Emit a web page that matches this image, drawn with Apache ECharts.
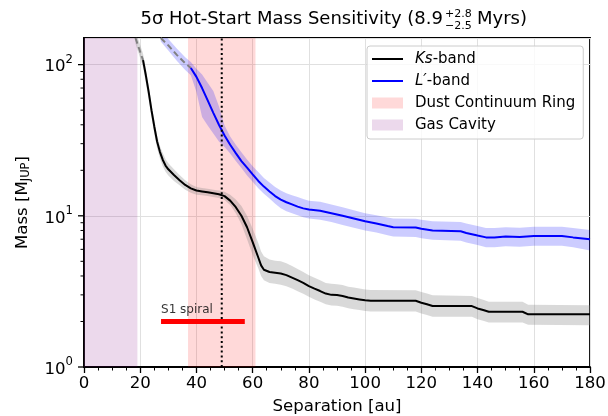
<!DOCTYPE html>
<html>
<head>
<meta charset="utf-8">
<script src="https://cdn.jsdelivr.net/npm/echarts@6/dist/echarts.min.js"></script>
<style>
  html, body { margin: 0; padding: 0; background: #fff; }
  #chart { width: 608px; height: 416px; }
</style>
</head>
<body>
<div id="chart"></div>
<script>
// ---- data ----
var cavityRange = [0, 19];
var ringRange = [37, 61];
var ringCenter = 49;
var s1Range = [27.4, 57.2];
var s1Mass = 2;

// Ks-band (black), dashed part above ~100 MJup
var ksDashX = [18.3, 19.7, 21];
var ksDashMass = [150, 126, 107];
var ksX = [21, 22, 23, 24, 25, 26, 27, 28, 29, 30, 32, 34, 36, 38, 40, 42, 44, 46, 48, 50,
  52, 54, 56, 58, 60, 62, 63, 64, 66, 68, 70, 72, 74, 76, 78, 80, 82, 84, 86, 88,
  90, 92, 94, 96, 98, 100, 102, 118, 120, 122, 124, 138, 140, 142, 144, 156, 158, 180];
var ksMass = [107, 85, 66, 50, 39, 31, 26.5, 23.5, 21.5, 20.3, 18.6, 17.2, 16, 15.2, 14.7, 14.5, 14.3, 14.1, 13.9, 13.5,
  12.6, 11.4, 10, 8.4, 6.7, 5.3, 4.7, 4.4, 4.25, 4.2, 4.15, 4.05, 3.9, 3.75, 3.6, 3.43, 3.3, 3.18, 3.06, 3.0,
  2.99, 2.95, 2.88, 2.84, 2.8, 2.76, 2.74, 2.74, 2.66, 2.6, 2.53, 2.53, 2.44, 2.38, 2.32, 2.32, 2.23, 2.23];
var ksBandX = [18.3, 19.7, 21, 22, 23, 24, 25, 26, 27, 28, 29, 30, 32, 34, 36, 38, 40, 42, 44, 46, 48, 50,
  52, 54, 56, 58, 60, 62, 63, 64, 66, 68, 70, 72, 74, 76, 78, 80, 82, 84, 86, 88,
  90, 92, 94, 96, 98, 100, 102, 118, 120, 122, 124, 138, 140, 142, 144, 156, 158, 180];
var ksHi = [165, 140, 118, 94, 73, 55, 43, 34, 29, 26, 23.7, 22.3, 20.3, 18.6, 17.2, 16.2, 15.5, 15.3, 15.1, 14.9, 14.7, 14.4,
  13.8, 12.8, 11.6, 10, 8.2, 6.6, 5.8, 5.4, 5.15, 5.05, 5.0, 4.85, 4.65, 4.45, 4.25, 4.05, 3.9, 3.75, 3.6, 3.55,
  3.53, 3.48, 3.4, 3.35, 3.3, 3.26, 3.23, 3.22, 3.13, 3.06, 2.98, 2.95, 2.86, 2.78, 2.7, 2.7, 2.58, 2.56];
var ksLo = [138, 115, 96, 76, 59, 45, 35, 28, 24, 21.3, 19.6, 18.5, 17, 15.9, 14.9, 14.2, 13.8, 13.7, 13.5, 13.3, 13.1, 12.7,
  11.8, 10.4, 8.8, 7.0, 5.5, 4.5, 4.0, 3.75, 3.6, 3.55, 3.5, 3.42, 3.3, 3.17, 3.05, 2.92, 2.8, 2.7, 2.6, 2.55,
  2.54, 2.5, 2.45, 2.41, 2.38, 2.35, 2.33, 2.33, 2.26, 2.21, 2.15, 2.15, 2.07, 2.02, 1.97, 1.97, 1.9, 1.89];

// L'-band (blue), dashed part above ~95 MJup
var lpDashX = [27.3, 30, 33, 36, 38];
var lpDashMass = [150, 134, 116, 102, 95];
var lpX = [38, 40, 42, 44, 46, 48, 50, 52, 54, 56, 58, 60, 62, 64, 66, 68, 70, 72, 74, 76,
  78, 80, 84, 88, 92, 96, 100, 104, 108, 110, 118, 120, 124, 134, 136, 140, 143, 146, 150, 155,
  160, 170, 174, 180];
var lpMass = [95, 83, 70, 58, 48, 40, 34, 29.5, 26, 23, 20.8, 18.8, 17, 15.6, 14.5, 13.5, 12.8, 12.3, 11.9, 11.5,
  11.2, 11, 10.8, 10.4, 10, 9.6, 9.2, 8.9, 8.55, 8.4, 8.36, 8.2, 8, 7.9, 7.7, 7.4, 7.2, 7.2, 7.3, 7.25,
  7.35, 7.35, 7.2, 7.0];
var lpBandX = [27.3, 30, 33, 36, 38, 40, 42, 44, 46, 48, 50, 52, 54, 56, 58, 60, 62, 64, 66, 68, 70, 72, 74, 76,
  78, 80, 84, 88, 92, 96, 100, 104, 108, 110, 118, 120, 124, 134, 136, 140, 143, 146, 150, 155,
  160, 170, 174, 180];
var lpHi = [165, 148, 128, 112, 104, 94, 86, 76, 67, 53, 39.5, 33.5, 29.5, 26.3, 23.6, 21.3, 19.5, 17.8, 16.6, 15.5, 14.7, 14.1, 13.7, 13.3,
  12.9, 12.6, 12.4, 11.9, 11.4, 10.9, 10.4, 10.1, 9.75, 9.6, 9.55, 9.4, 9.2, 9.1, 8.9, 8.55, 8.3, 8.3, 8.4, 8.35,
  8.45, 8.45, 8.3, 8.05];
var lpLo = [142, 124, 106, 92, 85, 66, 45, 39.5, 35, 31, 28.5, 25.8, 23, 20.7, 18.5, 16.8, 15.2, 14, 13, 12, 11.2, 10.7, 10.4, 10.1,
  9.8, 9.6, 9.4, 9.1, 8.7, 8.35, 8.0, 7.75, 7.45, 7.3, 7.25, 7.1, 6.95, 6.85, 6.65, 6.4, 6.2, 6.2, 6.3, 6.25,
  6.35, 6.35, 6.2, 5.9];

var yMin = 1, yMax = 150;
var yMajorTicks = [1, 10, 100];
var yMinorTicks = [2, 3, 4, 5, 6, 7, 8, 9, 20, 30, 40, 50, 60, 70, 80, 90];

var FONT = 'DejaVu Sans';
var LINE_ICON = 'path://M0,0L31,0L31,2L0,2Z';

function zip(xs, ys) {
  var out = [];
  for (var i = 0; i < xs.length; i++) out.push([xs[i], ys[i]]);
  return out;
}

// filled band between lo and hi
function band(xs, lo, hi, color) {
  return {
    type: 'custom', clip: true, silent: true, z: 2,
    data: [[xs[0], lo[0]]],
    renderItem: function (params, api) {
      var pts = [];
      for (var i = 0; i < xs.length; i++) pts.push(api.coord([xs[i], hi[i]]));
      for (var j = xs.length - 1; j >= 0; j--) pts.push(api.coord([xs[j], lo[j]]));
      return { type: 'polygon', shape: { points: pts }, style: { fill: color } };
    }
  };
}

// vertical shaded region
function region(name, range, color) {
  return {
    type: 'custom', name: name, clip: true, silent: true, z: 1,
    itemStyle: { color: color },
    data: [[range[0], yMin]],
    renderItem: function (params, api) {
      var p0 = api.coord([range[0], yMax]);
      var p1 = api.coord([range[1], yMin]);
      return {
        type: 'rect',
        shape: { x: p0[0], y: p0[1], width: p1[0] - p0[0], height: p1[1] - p0[1] },
        style: { fill: color }
      };
    }
  };
}

var myChart = echarts.init(document.getElementById('chart'));

var option = {
  animation: false,
  backgroundColor: '#fff',
  graphic: [
    { type: 'text', x: 443, y: 28, style: { text: '5σ Hot-Start Mass Sensitivity (8.9', font: '18px "DejaVu Sans"', fill: '#000', textAlign: 'right', textVerticalAlign: 'bottom' } },
    { type: 'text', x: 445, y: 20, style: { text: '+2.8', font: '11px "DejaVu Sans"', fill: '#000', textAlign: 'left', textVerticalAlign: 'bottom' } },
    { type: 'text', x: 445, y: 32, style: { text: '\u22122.5', font: '11px "DejaVu Sans"', fill: '#000', textAlign: 'left', textVerticalAlign: 'bottom' } },
    { type: 'text', x: 477, y: 28, style: { text: 'Myrs)', font: '18px "DejaVu Sans"', fill: '#000', textAlign: 'left', textVerticalAlign: 'bottom' } }
  ],
  legend: {
    orient: 'vertical',
    left: 367, top: 46,
    data: [
      { name: 'Ks-band', icon: LINE_ICON },
      { name: 'L\u2032-band', icon: LINE_ICON },
      { name: 'Dust Continuum Ring', icon: 'rect' },
      { name: 'Gas Cavity', icon: 'rect' }
    ],
    itemWidth: 31, itemHeight: 11, itemGap: 6,
    backgroundColor: 'rgba(255,255,255,0.8)',
    borderColor: '#cccccc', borderWidth: 1, borderRadius: 3,
    padding: [5, 8, 6, 5],
    textStyle: {
      fontFamily: FONT, fontSize: 15, color: '#000', lineHeight: 16, padding: [0, 0, 0, 7],
      rich: { i: { fontFamily: FONT, fontSize: 15, fontStyle: 'italic', color: '#000' } }
    },
    formatter: function (name) {
      if (name === 'Ks-band') return '{i|Ks}-band';
      if (name === 'L\u2032-band') return '{i|L\u2032}-band';
      return name;
    }
  },
  grid: {
    left: 84, right: 18, top: 38, bottom: 49,
    containLabel: false, outerBoundsMode: 'none',
    show: true, borderColor: '#000', borderWidth: 1.8
  },
  xAxis: {
    type: 'value', min: 0, max: 180, interval: 20,
    name: 'Separation [au]', nameLocation: 'middle', nameGap: 31,
    nameTextStyle: { fontFamily: FONT, fontSize: 16.6, color: '#000' },
    axisLine: { lineStyle: { color: '#000', width: 1.8 } },
    axisTick: { length: 6, lineStyle: { color: '#000', width: 1.3 } },
    minorTick: { show: true, splitNumber: 4, length: 3.5, lineStyle: { color: '#000', width: 1 } },
    axisLabel: { fontFamily: FONT, fontSize: 16.6, color: '#000', margin: 8 },
    splitLine: { show: true, lineStyle: { color: '#e0e0e0', width: 1 } }
  },
  yAxis: {
    type: 'log', logBase: 10, min: yMin, max: yMax,
    name: 'Mass [M{sub|JUP}]', nameLocation: 'middle', nameGap: 52,
    nameTextStyle: {
      fontFamily: FONT, fontSize: 16.6, color: '#000',
      rich: { sub: { fontFamily: FONT, fontSize: 11.5, color: '#000', verticalAlign: 'bottom', padding: [6, 0, 0, 0] } }
    },
    axisLine: { show: true, lineStyle: { color: '#000', width: 1.8 } },
    axisTick: { show: false },
    axisLabel: {
      fontFamily: FONT, fontSize: 16.6, color: '#000', margin: 11,
      formatter: function (v) {
        var e = Math.round(Math.log10(v));
        if (Math.abs(Math.pow(10, e) - v) > 1e-6) return '';
        return '{b|10}{sup|' + e + '}';
      },
      rich: {
        b: { fontFamily: FONT, fontSize: 16.6, color: '#000', padding: [5, 0, 0, 0] },
        sup: { fontFamily: FONT, fontSize: 11.6, color: '#000', verticalAlign: 'top' }
      }
    },
    splitLine: { show: true, lineStyle: { color: '#e0e0e0', width: 1 } }
  },
  series: [
    region('Gas Cavity', cavityRange, 'rgba(128,0,128,0.15)'),
    region('Dust Continuum Ring', ringRange, 'rgba(255,0,0,0.15)'),
    band(ksBandX, ksLo, ksHi, 'rgba(128,128,128,0.3)'),
    band(lpBandX, lpLo, lpHi, 'rgba(0,0,255,0.2)'),
    {
      type: 'line', data: zip(ksDashX, ksDashMass), symbol: 'none', z: 4, silent: true,
      lineStyle: { color: '#808080', width: 2, type: [6, 3.5] }
    },
    {
      type: 'line', data: zip(lpDashX, lpDashMass), symbol: 'none', z: 4, silent: true,
      lineStyle: { color: '#808080', width: 2, type: [6, 3.5] }
    },
    {
      name: 'Ks-band', type: 'line', data: zip(ksX, ksMass), symbol: 'none', z: 5,
      itemStyle: { color: '#000' }, lineStyle: { color: '#000', width: 2 }
    },
    {
      name: 'L\u2032-band', type: 'line', data: zip(lpX, lpMass), symbol: 'none', z: 5,
      itemStyle: { color: '#0000ff' }, lineStyle: { color: '#0000ff', width: 2 }
    },
    {
      type: 'line', data: [[ringCenter, yMin], [ringCenter, yMax]], symbol: 'none', z: 6, silent: true,
      lineStyle: { color: '#000', width: 2, type: [2, 2.8] }
    },
    {
      type: 'line', data: [[s1Range[0], s1Mass], [s1Range[1], s1Mass]], symbol: 'none', z: 6, silent: true,
      lineStyle: { color: '#ff0000', width: 5, cap: 'butt' }
    },
    {
      type: 'scatter', data: [[s1Range[0], s1Mass]], symbolSize: 0.1, z: 6, silent: true,
      label: {
        show: true, formatter: 'S1 spiral', position: 'top', align: 'left', distance: 6,
        fontFamily: FONT, fontSize: 12, color: '#000'
      }
    },
    {
      // log-axis tick marks (major + minor)
      type: 'custom', clip: false, silent: true, z: 10,
      data: [[0, yMin]],
      renderItem: function (params, api) {
        var kids = [];
        yMajorTicks.forEach(function (v) {
          var p = api.coord([0, v]);
          kids.push({ type: 'line', shape: { x1: p[0] - 6, y1: p[1], x2: p[0], y2: p[1] }, style: { stroke: '#000', lineWidth: 1.3 } });
        });
        yMinorTicks.forEach(function (v) {
          var p = api.coord([0, v]);
          kids.push({ type: 'line', shape: { x1: p[0] - 3.5, y1: p[1], x2: p[0], y2: p[1] }, style: { stroke: '#000', lineWidth: 1 } });
        });
        return { type: 'group', children: kids };
      }
    }
  ]
};

myChart.setOption(option);
window.addEventListener('resize', function () {
  myChart.resize();
});
</script>
</body>
</html>
